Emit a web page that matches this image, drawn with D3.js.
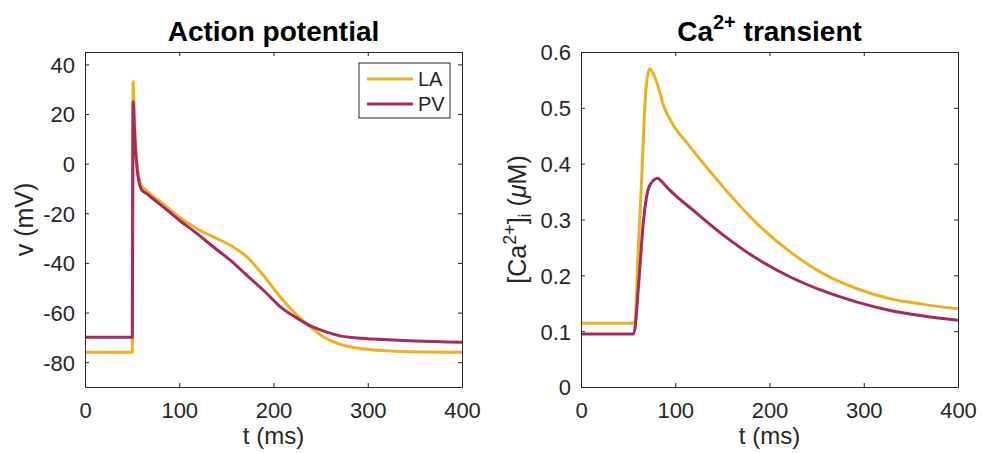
<!DOCTYPE html>
<html>
<head>
<meta charset="utf-8">
<script src="https://cdn.jsdelivr.net/npm/d3@7"></script>
<style>
  body { margin: 0; background: #fff; }
  svg { font-family: "Liberation Sans", Arial, Helvetica, sans-serif; }
  .tick text { fill: #262626; font-size: 22px; }
  .axis path, .axis line { stroke: #262626; stroke-width: 1; }
</style>
</head>
<body>
<svg id="chart" width="982" height="453"></svg>
<script>
// series, [t (ms), value]
var apLA = [[0,-76],[50.2,-76],[50.8,20],[51.2,33],[52,24],[53,13],[54.5,3],[56,-3],[58,-7],[60,-8.8],
  [65,-10.8],[80,-15.3],[100.8,-21.8],[118.5,-26.1],[136,-29.5],[153.8,-32.8],[171.5,-37.5],[189,-44.9],
  [207,-53.6],[224.6,-60.9],[238.7,-65.6],[250,-69],[260,-71.2],[270,-72.7],[285,-74.1],[306,-75.1],
  [330,-75.6],[360,-75.9],[400,-76]];
var apPV = [[0,-70],[50.2,-70],[50.8,15],[51.2,25],[52,18],[53,9],[54.5,1],[56,-4.5],[58,-8.5],[60,-10.5],
  [65,-12],[80,-16.5],[100.8,-23],[118.5,-28.1],[136,-33.5],[153.8,-38.8],[171.5,-44.9],[189,-50.9],
  [207,-57.6],[224.6,-62.2],[238.7,-65.3],[252.8,-67.4],[260,-68.3],[270.6,-69.4],[290,-70.3],
  [306,-70.7],[350,-71.5],[400,-72]];
var caLA = [[0,0.114],[55,0.114],[57.3,0.117],[59.1,0.176],[60.8,0.248],[64.4,0.373],[66.9,0.475],
  [69,0.535],[71.5,0.564],[73.3,0.570],[76,0.563],[80.4,0.546],[87.4,0.505],[98,0.469],[112,0.438],
  [130,0.400],[151,0.358],[186.5,0.293],[222,0.242],[257,0.203],[293,0.176],[328,0.158],[363.5,0.148],
  [400,0.140]];
var caPV = [[0,0.095],[55.5,0.095],[57.3,0.105],[60.8,0.176],[66.2,0.296],[71.5,0.355],[76.8,0.370],
  [81.4,0.374],[85,0.369],[91,0.358],[101.6,0.341],[115.8,0.321],[151,0.272],[186.5,0.230],
  [222,0.197],[257,0.172],[293,0.152],[328,0.137],[363.5,0.127],[400,0.1195]];

var seriesNames = ["LA", "PV"];
var colors = ["#EDB120", "#A6295F"];
var tTicks = [0, 100, 200, 300, 400];
var vTicks = [-80, -60, -40, -20, 0, 20, 40];
var caTicks = [0, 0.1, 0.2, 0.3, 0.4, 0.5, 0.6];

var svg = d3.select("#chart"),
    yTop = 52, yBot = 387;

function panel(left, right, yDomain, yTicks, yFmt, series) {
    var x = d3.scaleLinear().domain([0, 400]).range([left, right]);
    var y = d3.scaleLinear().domain(yDomain).range([yBot, yTop]);
    var g = svg.append("g");

    var line = d3.line()
        .x(function (d) {return x(d[0]);})
        .y(function (d) {return y(d[1]);})
        .curve(d3.curveMonotoneX);

    series.forEach(function (s, i) {
        g.append("path")
            .datum(s)
            .attr("d", line)
            .attr("fill", "none")
            .attr("stroke", colors[i])
            .attr("stroke-width", 3)
            .attr("stroke-linejoin", "round");
    });

    // box with inward ticks on all four sides
    var xb = g.append("g").attr("class", "axis")
        .attr("transform", "translate(0," + yBot + ")")
        .call(d3.axisBottom(x).tickValues(tTicks).tickSize(-4).tickSizeOuter(0).tickPadding(15));
    xb.selectAll(".tick text").attr("dy", "0.71em");
    g.append("g").attr("class", "axis")
        .attr("transform", "translate(0," + yTop + ")")
        .call(d3.axisTop(x).tickValues(tTicks).tickSize(-4).tickSizeOuter(0).tickFormat(""));
    var yl = g.append("g").attr("class", "axis")
        .attr("transform", "translate(" + left + ",0)")
        .call(d3.axisLeft(y).tickValues(yTicks).tickSize(-4).tickSizeOuter(0).tickPadding(10).tickFormat(yFmt));
    yl.selectAll(".tick text").attr("dy", "0.36em");
    g.append("g").attr("class", "axis")
        .attr("transform", "translate(" + right + ",0)")
        .call(d3.axisRight(y).tickValues(yTicks).tickSize(-4).tickSizeOuter(0).tickFormat(""));

    g.selectAll(".axis path.domain").attr("fill", "none");

    g.append("text")
        .attr("x", (left + right) / 2).attr("y", 444)
        .attr("text-anchor", "middle")
        .attr("font-size", 24).attr("fill", "#262626")
        .text("t (ms)");

    return g;
}

var g1 = panel(85, 462, [-90, 45], vTicks, function (d) {return String(d);}, [apLA, apPV]);
var g2 = panel(581, 958, [0, 0.6], caTicks, function (d) {return d === 0 ? "0" : d.toFixed(1);}, [caLA, caPV]);

// titles
g1.append("text")
    .attr("x", (85 + 462) / 2).attr("y", 41)
    .attr("text-anchor", "middle")
    .attr("font-size", 28).attr("font-weight", "bold")
    .text("Action potential");

var t2 = g2.append("text")
    .attr("x", (581 + 958) / 2).attr("y", 41)
    .attr("text-anchor", "middle")
    .attr("font-size", 28).attr("font-weight", "bold");
t2.append("tspan").text("Ca");
t2.append("tspan").attr("font-size", 20).attr("dy", -12).text("2+");
t2.append("tspan").attr("dy", 12).text(" transient");

// y labels
g1.append("text")
    .attr("transform", "translate(33," + (yTop + yBot) / 2 + ") rotate(-90)")
    .attr("text-anchor", "middle")
    .attr("font-size", 25).attr("fill", "#262626")
    .text("v (mV)");

var lab = g2.append("text")
    .attr("transform", "translate(526," + (yTop + yBot) / 2 + ") rotate(-90)")
    .attr("text-anchor", "middle")
    .attr("font-size", 25).attr("fill", "#262626");
lab.append("tspan").text("[Ca");
lab.append("tspan").attr("font-size", 18).attr("dy", -10).text("2+");
lab.append("tspan").attr("dy", 10).text("]");
lab.append("tspan").attr("font-size", 18).attr("dy", 5).text("i");
lab.append("tspan").attr("dy", -5).text(" (");
lab.append("tspan").attr("font-style", "italic").text("\u03bc");
lab.append("tspan").text("M)");

// legend
var lg = g1.append("g").attr("transform", "translate(359,63)");
lg.append("rect")
    .attr("width", 91).attr("height", 55)
    .attr("fill", "#fff").attr("stroke", "#262626").attr("stroke-width", 1);
seriesNames.forEach(function (name, i) {
    var yy = 16 + i * 25;
    lg.append("line")
        .attr("x1", 8).attr("x2", 54).attr("y1", yy).attr("y2", yy)
        .attr("stroke", colors[i]).attr("stroke-width", 3);
    lg.append("text")
        .attr("x", 59).attr("y", yy).attr("dy", "0.36em")
        .attr("font-size", 20).attr("fill", "#262626")
        .text(name);
});
</script>
</body>
</html>
